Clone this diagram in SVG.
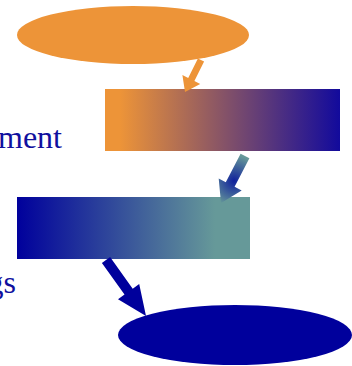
<svg xmlns="http://www.w3.org/2000/svg" width="352" height="366" viewBox="0 0 352 366">
<style>
.lbl{font-family:"Liberation Serif","Times New Roman",serif;font-size:32px;fill:#10109E}
</style>
<defs>
<linearGradient id="g1" gradientUnits="userSpaceOnUse" x1="120" y1="0" x2="340" y2="0">
<stop offset="0" stop-color="#ED9438"/>
<stop offset="1" stop-color="#120A9C"/>
</linearGradient>
<linearGradient id="g2" gradientUnits="userSpaceOnUse" x1="17" y1="0" x2="215" y2="0">
<stop offset="0" stop-color="#00009C"/>
<stop offset="1" stop-color="#669999"/>
</linearGradient>
<radialGradient id="g3" gradientUnits="userSpaceOnUse" cx="234" cy="181" r="26">
<stop offset="0" stop-color="#10209C"/>
<stop offset="1" stop-color="#669999"/>
</radialGradient>
</defs>
<text class="lbl" x="62" y="148" text-anchor="end">ment</text>
<text class="lbl" x="16" y="293" text-anchor="end">gs</text>
<g id="n1"><ellipse cx="133" cy="35" rx="116" ry="29" fill="#ED9438"/></g>
<g id="n2"><rect x="105" y="89" width="235" height="62" fill="url(#g1)"/></g>
<g id="n3"><rect x="17" y="197" width="233" height="62" fill="url(#g2)"/></g>
<g id="n4"><ellipse cx="235" cy="335" rx="117" ry="30" fill="#00009C"/></g>
<g id="connectors">
<polygon fill="#ED9438" points="204.1,61.6 194.4,81.1 200.2,84 185,92 182.4,75 188.2,77.9 197.9,58.4"/>
<polygon fill="url(#g3)" points="249.4,158.3 234.6,186.8 241.7,190.5 221,203 218.7,178.5 225.8,182.2 240.6,153.7"/>
<polygon fill="#00009C" points="101.9,262.9 124.5,294.5 118,299.2 146,316 139.2,284 132.7,288.7 110.1,257.1"/>
</g>
</svg>
